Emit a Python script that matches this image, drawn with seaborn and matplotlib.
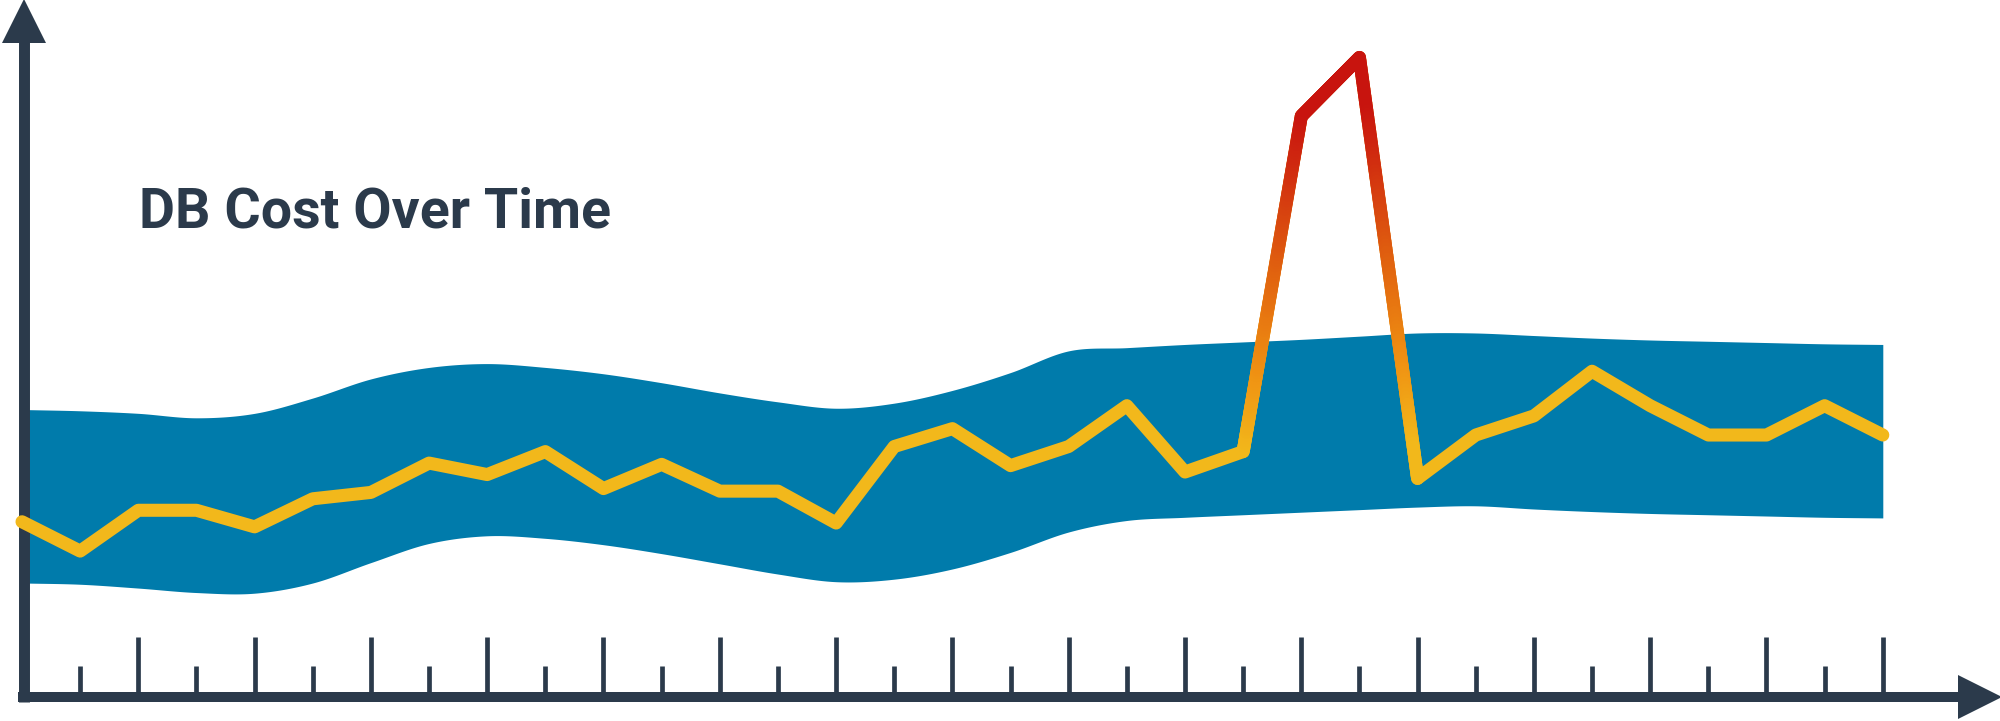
import numpy as np
import pandas as pd
import matplotlib
matplotlib.use("Agg")
import matplotlib.pyplot as plt
import seaborn as sns
from matplotlib.collections import LineCollection
from matplotlib.colors import LinearSegmentedColormap, Normalize

# ---------------- data ----------------
periods = list(range(33))
cost = [137, 114, 146, 146, 133, 155, 160, 183, 174, 192, 163, 182, 161, 161, 136,
        196, 210, 181, 196, 228, 176, 192, 455, 501, 171, 205, 220, 255, 228, 205,
        205, 228, 205]
band_upper = [225, 224, 222, 218.5, 222, 234, 249, 258, 261, 258, 253, 246, 238, 231, 226,
              230, 240, 254, 271, 273.5, 276, 278, 280, 282.5, 285, 285, 283, 281, 279.5,
              278.5, 277.5, 276.5, 276]
band_lower = [89, 88, 85, 81.5, 81, 89, 105, 120, 126, 124, 119, 112, 104, 96, 90,
              92, 100, 113, 129, 138, 140.5, 142.5, 144.5, 146.5, 148.5, 149.5, 147, 145,
              143.5, 142.5, 141.5, 140.5, 140]
spike_start, spike_end = 21, 24
title_text = "DB Cost Over Time"

# ---------------- style ----------------
AXIS = "#2b3a4b"
BAND = "#007bab"
YELLOW = "#f2b81b"
LW = 9.4

sns.set_theme(style="white")
plt.rcParams["font.family"] = ["Roboto", "DejaVu Sans"]

W, H = 2000, 721
fig = plt.figure(figsize=(W / 100, H / 100), dpi=100)
ax = fig.add_axes([0, 0, 1, 1])

PX_X, X0 = 58.15, 22.0     # pixels per period, pixel of period 0
PX_Y, Y0 = 1.2755, 696.5   # pixels per unit, pixel row of value 0
ax.set_xlim(-X0 / PX_X, (W - X0) / PX_X)
ax.set_ylim(-(H - Y0) / PX_Y, Y0 / PX_Y)


def smooth_curve(x, y, n=24):
    """Catmull-Rom (cardinal) curve rendering through the given points."""
    x = np.asarray(x, float)
    y = np.asarray(y, float)
    m = np.empty_like(y)
    m[1:-1] = (y[2:] - y[:-2]) / (x[2:] - x[:-2])
    m[0] = (y[1] - y[0]) / (x[1] - x[0])
    m[-1] = (y[-1] - y[-2]) / (x[-1] - x[-2])
    xs, ys = [], []
    for i in range(len(x) - 1):
        h = x[i + 1] - x[i]
        t = np.linspace(0, 1, n, endpoint=(i == len(x) - 2))
        h00 = 2 * t**3 - 3 * t**2 + 1
        h10 = t**3 - 2 * t**2 + t
        h01 = -2 * t**3 + 3 * t**2
        h11 = t**3 - t**2
        xs.append(x[i] + t * h)
        ys.append(h00 * y[i] + h10 * h * m[i] + h01 * y[i + 1] + h11 * h * m[i + 1])
    return np.concatenate(xs), np.concatenate(ys)


# band
bx, bu = smooth_curve(periods, band_upper)
_, bl = smooth_curve(periods, band_lower)
ax.fill_between(bx, bl, bu, color=BAND, linewidth=0, zorder=1)

# main line
df = pd.DataFrame({"period": periods, "cost": cost})
sns.lineplot(data=df, x="period", y="cost", color=YELLOW, linewidth=LW, ax=ax,
             zorder=3, solid_capstyle="round", solid_joinstyle="round")

# gradient on the spike
cmap = LinearSegmentedColormap.from_list(
    "spike", [(0.0, YELLOW), (0.25, "#ef8f12"), (0.55, "#e0600f"),
              (0.85, "#d02a0f"), (1.0, "#c8140e")])
norm = Normalize(vmin=195, vmax=460)
segs, vals = [], []
for i in range(spike_start, spike_end):
    t = np.linspace(0, 1, 120)
    xs = periods[i] + t * (periods[i + 1] - periods[i])
    ys = cost[i] + t * (cost[i + 1] - cost[i])
    pts = np.column_stack([xs, ys])
    segs.extend(np.stack([pts[:-1], pts[1:]], axis=1))
    vals.extend((ys[:-1] + ys[1:]) / 2)
lc = LineCollection(segs, colors=cmap(norm(np.array(vals))), linewidths=LW,
                    capstyle="round", zorder=4)
ax.add_collection(lc)

# axes
ax.set_xlabel("")
ax.set_ylabel("")
for s in ["top", "right"]:
    ax.spines[s].set_visible(False)
ax.spines["left"].set_position(("data", 1.5 / PX_X))
ax.spines["bottom"].set_position(("data", 0))
ax.spines["left"].set_linewidth(7.9)
ax.spines["bottom"].set_linewidth(7.2)
for s in ["left", "bottom"]:
    ax.spines[s].set_color(AXIS)
    ax.spines[s].set_capstyle("butt")
    ax.spines[s].set_zorder(2)
ax.spines["left"].set_bounds(-5.5 / PX_Y, (Y0 - 40) / PX_Y)
ax.spines["bottom"].set_bounds((18 - X0) / PX_X, (1962 - X0) / PX_X)

ax.set_xticks(periods[2::2])
ax.set_xticks(periods[1::2], minor=True)
ax.set_yticks([])
ax.tick_params(axis="x", which="both", bottom=True, direction="in",
               color=AXIS, width=3.4, labelbottom=False)
ax.tick_params(axis="x", which="major", length=43)
ax.tick_params(axis="x", which="minor", length=22)

# arrow heads
ax.plot([1 - 20 / W], [0], marker=">", ms=32, color=AXIS, mew=0,
        transform=ax.get_yaxis_transform(), clip_on=False, zorder=5)
ax.plot([23.5 / W], [1 - 21 / H], marker="^", ms=32, color=AXIS, mew=0,
        transform=ax.transAxes, clip_on=False, zorder=5)

# title
fig.text(139 / W, 1 - 227 / H, title_text, fontsize=40, fontweight="bold",
         family="Roboto", color=AXIS, ha="left", va="baseline")

fig.savefig("out.png", dpi=100)
